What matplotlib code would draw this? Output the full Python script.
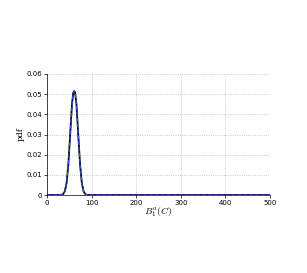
import matplotlib
matplotlib.use('Agg')
import matplotlib.pyplot as plt

plt.rcParams['mathtext.fontset'] = 'cm'

# values
x_vals = [0, 30, 36, 40, 44, 48, 52, 56, 59, 61, 63, 66, 70, 74, 78, 82, 86, 90, 100, 200, 300, 400, 500]
pdf_vals = [0, 0, 0.0004, 0.0018, 0.0061, 0.0155, 0.0302, 0.0451, 0.0508, 0.0515, 0.0508, 0.0451, 0.0302, 0.0155, 0.0061, 0.0018, 0.0004, 0.00005, 0, 0, 0, 0, 0]

x_ticks = [0, 100, 200, 300, 400, 500]
y_ticks = [0, 0.01, 0.02, 0.03, 0.04, 0.05, 0.06]
y_labels = ['0', '0.01', '0.02', '0.03', '0.04', '0.05', '0.06']

fig = plt.figure(figsize=(3.07, 2.73), dpi=100)
ax = fig.add_axes([47 / 307, 1 - 195 / 273, 223 / 307, 121 / 273])

ax.plot(x_vals, pdf_vals, color='black', linewidth=1.3)
ax.plot(x_vals, pdf_vals, color='#3355ff', linewidth=0.8, linestyle='--')

ax.set_xlim(0, 500)
ax.set_ylim(0, 0.06)
ax.set_xticks(x_ticks)
ax.set_yticks(y_ticks)
ax.set_yticklabels(y_labels)
ax.tick_params(labelsize=5, length=2, width=0.5, pad=1.5)
ax.grid(True, linestyle=':', color='#bbbbbb', linewidth=0.6)
ax.spines['top'].set_visible(False)
ax.spines['right'].set_visible(False)
for s in ax.spines.values():
    s.set_linewidth(0.5)

ax.set_xlabel('$B_1^a(C)$', fontsize=7, labelpad=0)
ax.set_ylabel('pdf', fontsize=6, labelpad=1, family='serif')

plt.savefig('out.png', dpi=100)
